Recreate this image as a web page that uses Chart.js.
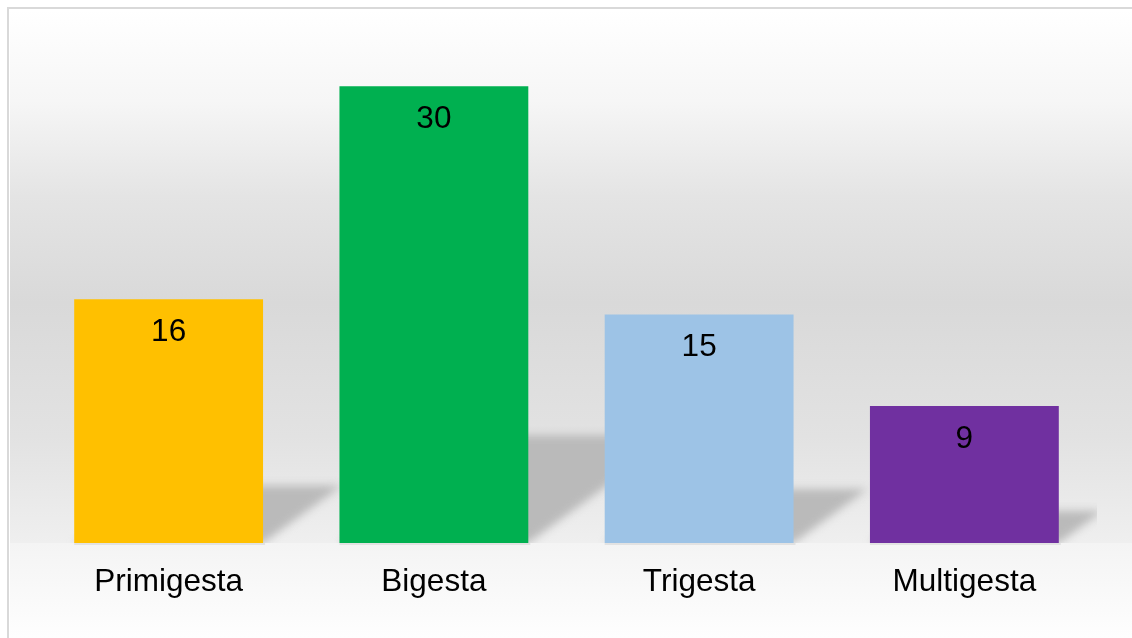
<!DOCTYPE html>
<html>
<head>
<meta charset="utf-8">
<script src="https://cdn.jsdelivr.net/npm/chart.js@4"></script>
<style>
    html, body { margin: 0; padding: 0; background: #ffffff; }
    canvas { display: block; }
</style>
</head>
<body>
<canvas id="gestasChart" width="1132" height="638"></canvas>
<script>
const categories = ['Primigesta', 'Bigesta', 'Trigesta', 'Multigesta'];
const counts = [16, 30, 15, 9];
const barColors = ['#FFC000', '#00B050', '#9DC3E6', '#7030A0'];

(() => {
    const canvas = document.getElementById('gestasChart');
    if (!canvas || typeof Chart === 'undefined') {
        return;
    }

    const labelFont = '31.5px "Liberation Sans", Arial, sans-serif';

    // gradient wall + floor + thin frame, like the office chart style
    const backdrop = {
        id: 'backdrop',
        beforeDraw(chart) {
            const { ctx, width, height, chartArea } = chart;
            ctx.save();
            ctx.fillStyle = '#ffffff';
            ctx.fillRect(0, 0, width, height);

            const wall = ctx.createLinearGradient(0, 10, 0, chartArea.bottom);
            wall.addColorStop(0, '#ffffff');
            wall.addColorStop(0.17, '#f6f6f6');
            wall.addColorStop(0.35, '#e4e4e4');
            wall.addColorStop(0.55, '#d9d9d9');
            wall.addColorStop(0.8, '#e2e2e2');
            wall.addColorStop(1, '#efefef');
            ctx.fillStyle = wall;
            ctx.fillRect(10, 10, width - 10, chartArea.bottom - 10);

            const floor = ctx.createLinearGradient(0, chartArea.bottom, 0, height);
            floor.addColorStop(0, '#f4f4f4');
            floor.addColorStop(1, '#fefefe');
            ctx.fillStyle = floor;
            ctx.fillRect(10, chartArea.bottom, width - 10, height - chartArea.bottom);

            ctx.strokeStyle = '#d9d9d9';
            ctx.lineWidth = 2;
            ctx.strokeRect(8, 8, width + 20, height + 20);
            ctx.restore();
        },
    };

    // skewed floor shadow behind each bar
    const floorShadows = {
        id: 'floorShadows',
        beforeDatasetsDraw(chart) {
            const { ctx, chartArea } = chart;
            const meta = chart.getDatasetMeta(0);
            ctx.save();
            ctx.beginPath();
            ctx.rect(chartArea.left, chartArea.top, chartArea.right - chartArea.left, chartArea.bottom - chartArea.top);
            ctx.clip();
            ctx.filter = 'blur(4px)';
            ctx.fillStyle = '#bababa';
            meta.data.forEach((bar) => {
                const left = bar.x - bar.width / 2;
                const right = bar.x + bar.width / 2;
                const shadowHeight = (bar.base - bar.y) * 0.236;
                const skew = shadowHeight * 1.37;
                ctx.beginPath();
                ctx.moveTo(left, bar.base);
                ctx.lineTo(right, bar.base);
                ctx.lineTo(right + skew, bar.base - shadowHeight);
                ctx.lineTo(left + skew, bar.base - shadowHeight);
                ctx.closePath();
                ctx.fill();
            });
            ctx.restore();

            // faint line under each bar foot
            ctx.save();
            ctx.fillStyle = '#e2e2e2';
            meta.data.forEach((bar) => {
                ctx.fillRect(bar.x - bar.width / 2, bar.base, bar.width + 2, 2);
            });
            ctx.restore();
        },
    };

    const valueLabels = {
        id: 'valueLabels',
        afterDatasetsDraw(chart) {
            const { ctx } = chart;
            const meta = chart.getDatasetMeta(0);
            ctx.save();
            ctx.font = labelFont;
            ctx.fillStyle = '#000000';
            ctx.textAlign = 'center';
            ctx.textBaseline = 'middle';
            meta.data.forEach((bar, i) => {
                ctx.fillText(String(counts[i]), bar.x, bar.y + 33);
            });
            ctx.restore();
        },
    };

    new Chart(canvas.getContext('2d'), {
        type: 'bar',
        data: {
            labels: categories,
            datasets: [
                {
                    label: 'Gestas',
                    data: counts,
                    backgroundColor: barColors,
                    borderWidth: 0,
                    barPercentage: 0.712,
                    categoryPercentage: 1,
                },
            ],
        },
        options: {
            responsive: false,
            devicePixelRatio: 1,
            animation: false,
            layout: {
                padding: { left: 36, right: 35, top: 10, bottom: 0 },
            },
            scales: {
                x: {
                    grid: { display: false, drawTicks: false },
                    border: { display: false },
                    ticks: {
                        color: '#000000',
                        padding: 20,
                        font: { family: '"Liberation Sans", Arial, sans-serif', size: 31.5 },
                    },
                    afterFit(scale) {
                        scale.height = 95;
                    },
                },
                y: {
                    display: false,
                    min: 0,
                    max: 35,
                },
            },
            plugins: {
                legend: { display: false },
                tooltip: { enabled: false },
            },
        },
        plugins: [backdrop, floorShadows, valueLabels],
    });
})();
</script>
</body>
</html>
